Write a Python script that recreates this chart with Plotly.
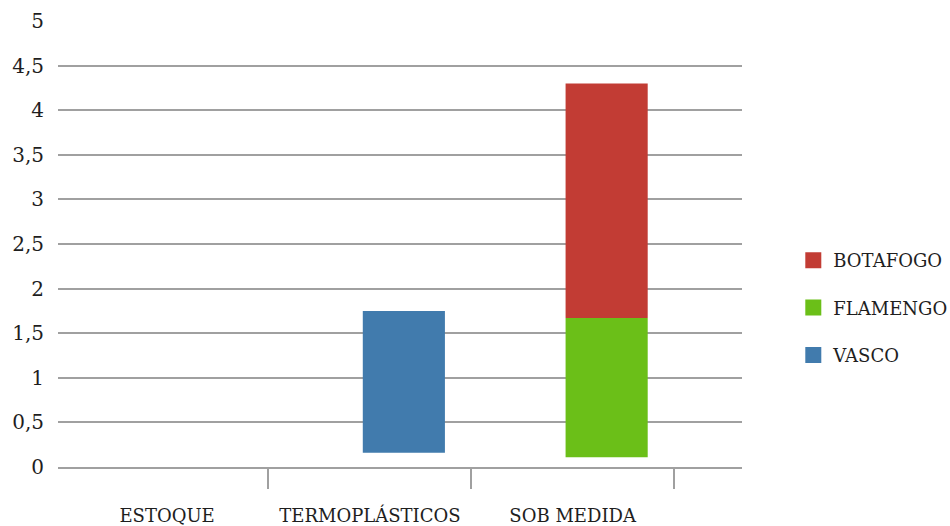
import plotly.graph_objects as go

# ---- data ----
categories = ["ESTOQUE", "TERMOPLÁSTICOS", "SOB MEDIDA"]
series_names = ["BOTAFOGO", "FLAMENGO", "VASCO"]
botafogo_low = [None, None, 1.67]
botafogo_high = [None, None, 4.30]
flamengo_low = [None, None, 0.11]
flamengo_high = [None, None, 1.67]
vasco_low = [None, 0.16, None]
vasco_high = [None, 1.75, None]
y_ticks = [0, 0.5, 1, 1.5, 2, 2.5, 3, 3.5, 4, 4.5, 5]

colors = {"BOTAFOGO": "#C23C34", "FLAMENGO": "#6BBF18", "VASCO": "#417BAD"}
FONT = "DejaVu Serif"
GRID = "#A0A0A0"
TXT = "#1E1E1E"

def heights(lo, hi):
    return [None if (a is None or b is None) else b - a for a, b in zip(lo, hi)]

fig = go.Figure()
series = {
    "VASCO": (vasco_low, vasco_high),
    "FLAMENGO": (flamengo_low, flamengo_high),
    "BOTAFOGO": (botafogo_low, botafogo_high),
}
for name, (lo, hi) in series.items():
    fig.add_trace(go.Bar(
        x=categories, y=heights(lo, hi), base=lo, name=name,
        marker=dict(color=colors[name], line=dict(width=0)),
        width=0.405, offset=-0.035, showlegend=False, legendgroup=name,
        hoverinfo="skip",
    ))

# legend proxies (square swatches)
for name in series_names:
    fig.add_trace(go.Scatter(
        x=[None], y=[None], mode="markers", name=name, legendgroup=name,
        marker=dict(symbol="square", size=16, color=colors[name]),
        xaxis="x2", showlegend=True,
    ))

xr = [-0.538, 2.835]
fig.update_layout(
    width=950, height=526,
    margin=dict(l=58, r=208, t=21, b=59, autoexpand=False),
    paper_bgcolor="white", plot_bgcolor="white",
    barmode="overlay",
    separators=",.",
    font=dict(family=FONT, color=TXT, size=18),
    xaxis=dict(
        type="category", range=xr, showgrid=False, zeroline=False,
        showline=True, linecolor=GRID, linewidth=2, automargin=False,
        ticks="", tickfont=dict(size=18, family=FONT, color=TXT),
        ticklabelstandoff=31,
    ),
    xaxis2=dict(
        overlaying="x", anchor="y", side="bottom", range=xr,
        tickvals=[0.5, 1.5, 2.5], ticks="outside", ticklen=21,
        tickwidth=2, tickcolor=GRID, showticklabels=False,
        showgrid=False, zeroline=False, showline=False,
    ),
    yaxis=dict(
        range=[0, 5], tickvals=y_ticks, showgrid=True, gridcolor=GRID,
        gridwidth=2, zeroline=False, showline=False, ticks="",
        automargin=False,
        tickfont=dict(size=20, family=FONT, color=TXT),
        ticklabelstandoff=13,
    ),
    legend=dict(
        x=1.075, xanchor="left", y=0.3565, yanchor="middle",
        traceorder="grouped", tracegroupgap=21,
        font=dict(size=18, family=FONT, color=TXT),
        bgcolor="rgba(0,0,0,0)",
    ),
)

fig.write_html("out.html")
